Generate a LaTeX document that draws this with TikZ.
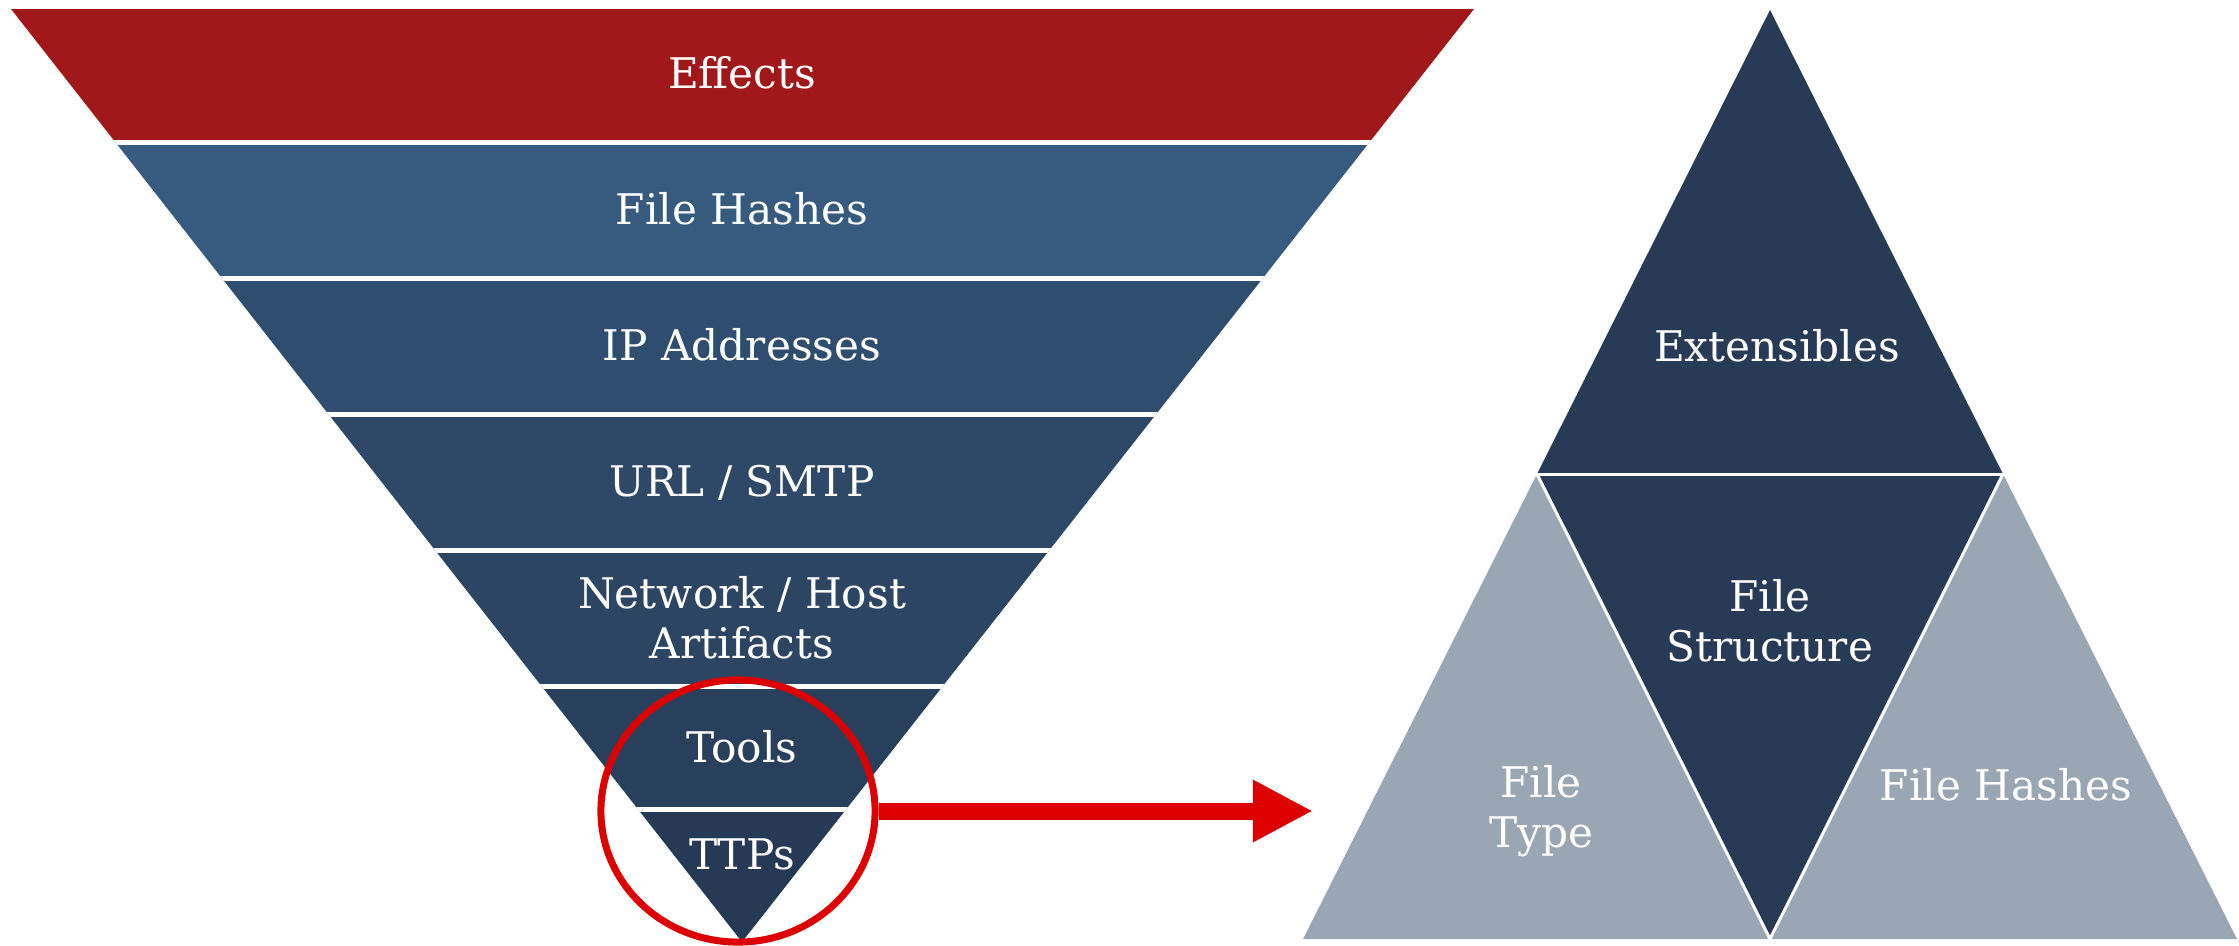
\documentclass[tikz,border=0pt]{standalone}
\usepackage{fontspec}
\setmainfont{DejaVu Serif}
\usetikzlibrary{arrows.meta}
\usetikzlibrary{shapes.geometric}

\definecolor{effectsred}{HTML}{A1181B}
\definecolor{hashblue}{HTML}{375B7E}
\definecolor{ipblue}{HTML}{2F4E6F}
\definecolor{urlblue}{HTML}{2D4967}
\definecolor{netblue}{HTML}{2B4563}
\definecolor{toolblue}{HTML}{29405D}
\definecolor{ttpblue}{HTML}{263A56}
\definecolor{pyrnavy}{HTML}{273B56}
\definecolor{pyrgray}{HTML}{99A6B3}
\definecolor{ringred}{HTML}{DD0000}

\begin{document}
\begin{tikzpicture}[x=0.01cm, y=-0.01cm, thick]
      \tikzstyle{label} = [text=white, font=\fontsize{12}{14.2}\selectfont, align=center]
      \tikzstyle{gap} = [draw=white, line width=0.45mm]
      \tikzstyle{thin gap} = [draw=white, line width=0.3mm]
      \tikzstyle{big arrow} = [draw=ringred, line width=1.7mm, -{Triangle[length=6mm,width=5.8mm]}]
      \useasboundingbox (0,0) rectangle (2239,945);

      %funnel
      \begin{scope}
        \clip (11,9) -- (1474,9) -- (742,942) -- cycle;
        \fill[effectsred] (0,9) rectangle (1500,142.5);
        \fill[hashblue] (0,142.5) rectangle (1500,278.5);
        \fill[ipblue] (0,278.5) rectangle (1500,414.5);
        \fill[urlblue] (0,414.5) rectangle (1500,550.5);
        \fill[netblue] (0,550.5) rectangle (1500,686.5);
        \fill[toolblue] (0,686.5) rectangle (1500,809.5);
        \fill[ttpblue] (0,809.5) rectangle (1500,945);
        \foreach \y in {142.5,278.5,414.5,550.5,686.5,809.5}
          \draw[gap] (0,\y) -- (1500,\y);
      \end{scope}

      %pyramid
      \coordinate (apex) at (1770,10);
      \coordinate (midl) at (1537,474);
      \coordinate (midr) at (2003,474);
      \coordinate (botl) at (1303,939);
      \coordinate (botm) at (1770,939);
      \coordinate (botr) at (2237,939);
      \fill[pyrnavy] (apex) -- (midl) -- (midr) -- cycle;
      \fill[pyrnavy] (midl) -- (midr) -- (botm) -- cycle;
      \fill[pyrgray] (midl) -- (botl) -- (botm) -- cycle;
      \fill[pyrgray] (midr) -- (botm) -- (botr) -- cycle;
      \draw[thin gap] (midl) -- (midr);
      \draw[thin gap] (midl) -- (botm) -- (midr);

      %nodes
      \node[label] (effects) at (742,73) {Effects};
      \node[label] (hashes) at (742,209) {File Hashes};
      \node[label] (ip) at (742,345) {IP Addresses};
      \node[label] (url) at (742,483) {URL / SMTP};
      \node[label] (network) at (742,618) {Network / Host\\Artifacts};
      \node[label] (tools) at (742,747) {Tools};
      \node[label] (ttps) at (742,854) {TTPs};
      \node[label] (extensibles) at (1777,346) {Extensibles};
      \node[label] (structure) at (1770,621) {File\\Structure};
      \node[label] (type) at (1541,811) {File\\Type};
      \node[label] (pyrhashes) at (2006,785) {File Hashes};
      \node[ellipse, draw=ringred, line width=0.7mm, inner sep=0pt,
         minimum width=2.74cm, minimum height=2.62cm] (ring) at (738,811) {};
      \coordinate (tip) at (1313,811);

      %lines
      \draw[big arrow] (ring.east) -- (tip);
\end{tikzpicture}
\end{document}
